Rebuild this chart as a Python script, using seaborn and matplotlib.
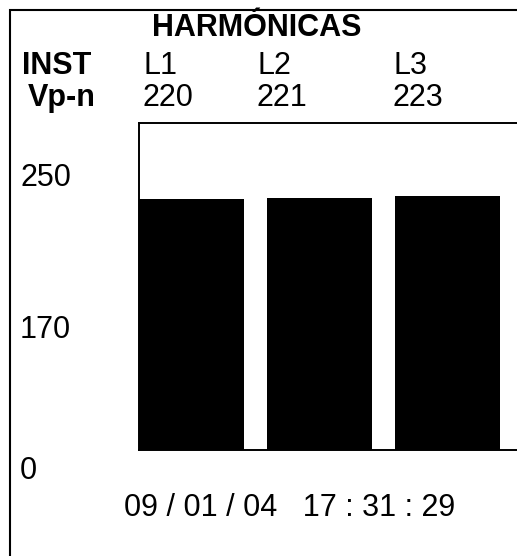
import pandas as pd
import matplotlib
matplotlib.use('Agg')
import matplotlib.pyplot as plt
import seaborn as sns
from matplotlib.patches import Rectangle

# datos de la pantalla
titulo = 'HARMÓNICAS'
fases = ['L1', 'L2', 'L3']
tension = [220, 221, 223]
escala = ['250', '170', '0']
fecha = '09 / 01 / 04   17 : 31 : 29'

sns.set_theme(style='white')
plt.rcParams['font.family'] = ['Liberation Sans', 'DejaVu Sans']
plt.rcParams['text.color'] = 'black'

W, H = 517, 556
fig = plt.figure(figsize=(W / 100, H / 100), dpi=100)


def fx(x):
    return x / W


def fy(y):
    return 1 - y / H


# marco exterior
fig.add_artist(Rectangle((fx(10), -0.1), 1.2, fy(10) + 0.1, transform=fig.transFigure,
                         fill=False, lw=1.5, ec='black'))

# zona de barras
ax = fig.add_axes([fx(139), fy(450), (535 - 139) / W, (450 - 123) / H])
df = pd.DataFrame({'fase': fases, 'v': tension})
sns.barplot(data=df, x='fase', y='v', color='black', width=0.82, saturation=1,
            linewidth=0, ax=ax)
ax.set_xlim(-0.41, 2.68)
ax.set_ylim(0, 287)
ax.set_xticks([])
ax.set_yticks([])
ax.set_xlabel('')
ax.set_ylabel('')
for s in ax.spines.values():
    s.set_linewidth(1.4)
    s.set_color('black')

fs = 22
fig.text(fx(257), fy(28), titulo, fontsize=fs, fontweight='bold', ha='center', va='center')
fig.text(fx(22), fy(66), 'INST', fontsize=fs, fontweight='bold', ha='left', va='center')
fig.text(fx(28), fy(98), 'Vp-n', fontsize=fs, fontweight='bold', ha='left', va='center')
for x, f, v in zip([143, 257, 393], fases, tension):
    fig.text(fx(x), fy(66), f, fontsize=fs, ha='left', va='center')
    fig.text(fx(x), fy(98), str(v), fontsize=fs, ha='left', va='center')

for y, lab in zip([178, 330, 471], escala):
    fig.text(fx(20), fy(y), lab, fontsize=fs, ha='left', va='center')

fig.text(fx(290), fy(508), fecha, fontsize=fs, ha='center', va='center')

fig.savefig('out.png', dpi=100, facecolor='white')
